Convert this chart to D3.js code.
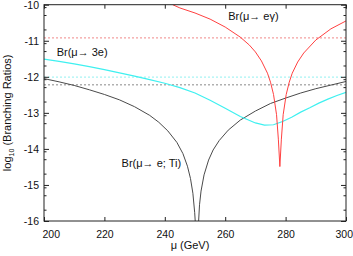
<!doctype html>
<html>
  <head>
    <meta charset="utf-8">
    <script src="https://cdn.jsdelivr.net/npm/d3@7"></script>
    <style>
      body { margin: 0; background: #fff; }
      text { font-family: "Liberation Sans", Arial, sans-serif; fill: #111; }
    </style>
  </head>
  <body>
    <svg id="chart"></svg>
    <script>
      // values: log10(BR) vs mu (GeV)
      var muTi  = [200, 205, 210, 215, 220, 225, 230, 235, 238, 241, 244, 246, 247.5, 248.5, 249.3, 249.9, 250.3,
                   250.9, 251.2, 251.5, 252, 253, 254.5, 256, 258, 261, 265, 270, 275, 280, 285, 290, 295, 300];
      var brTi  = [-12.05, -12.14, -12.24, -12.36, -12.49, -12.64, -12.83, -13.07, -13.26, -13.50, -13.82, -14.13, -14.48, -14.82, -15.23, -15.77, -16.3,
                   -16.3, -16.0, -15.55, -15.17, -14.72, -14.31, -14.03, -13.77, -13.48, -13.20, -12.95, -12.74, -12.59, -12.45, -12.33, -12.23, -12.13];

      var mu3e  = [200, 205, 210, 215, 220, 225, 230, 235, 240, 245, 250, 255, 260, 265, 270, 273, 276, 279, 282, 285, 288, 291, 294, 297, 300];
      var br3e  = [-11.51, -11.57, -11.64, -11.72, -11.80, -11.89, -11.98, -12.08, -12.18, -12.30, -12.45, -12.65, -12.87, -13.10, -13.28, -13.34, -13.33, -13.24, -13.12, -12.98, -12.86, -12.73, -12.62, -12.52, -12.43];

      var muEg  = [242.6, 245, 250, 255, 260, 265, 268, 270, 272, 274, 275, 276, 277, 277.6, 278.1, 278.6, 279.2, 280.2, 281.2, 282.2, 284, 286, 290, 295, 300];
      var brEg  = [-10.0, -10.09, -10.23, -10.40, -10.62, -10.90, -11.12, -11.31, -11.56, -11.90, -12.15, -12.49, -13.05, -13.73, -14.49, -13.73, -13.05, -12.49, -12.15, -11.90, -11.59, -11.34, -10.98, -10.67, -10.45];

      // experimental limits (dotted)
      var limitVals   = [-10.92, -12.01, -12.22];
      var limitColors = ["#f4a0a0", "#a8f4f4", "#b0b0b0"];

      var xTicks = [200, 220, 240, 260, 280, 300];
      var yTicks = [-10, -11, -12, -13, -14, -15, -16];

      var labels = [
        { text: "Br(\u03bc\u2192 e\u03b3)", mu: 261, v: -10.43 },
        { text: "Br(\u03bc\u2192 3e)", mu: 204.2, v: -11.42 },
        { text: "Br(\u03bc\u2192 e; Ti)", mu: 225.7, v: -14.5 }
      ];

      var W = 353, H = 256;
      var mLeft = 44, mRight = 346, mTop = 4.7, mBottom = 221;

      var svg = d3.select("#chart").attr("width", W).attr("height", H);
      var x = d3.scaleLinear().domain([200, 300]).range([mLeft, mRight]);
      var y = d3.scaleLinear().domain([-16, -10]).range([mBottom, mTop]);

      svg.append("clipPath").attr("id", "clip")
        .append("rect").attr("x", mLeft).attr("y", mTop).attr("width", mRight - mLeft).attr("height", mBottom - mTop);

      // dotted limit lines
      svg.selectAll(".limit").data(limitVals).enter().append("line")
        .attr("x1", mLeft).attr("x2", mRight)
        .attr("y1", d => y(d)).attr("y2", d => y(d))
        .attr("stroke", (d, i) => limitColors[i])
        .attr("stroke-width", 1.3)
        .attr("stroke-dasharray", "2,2");

      var line = d3.line().x(d => x(d[0])).y(d => y(d[1]));
      var g = svg.append("g").attr("clip-path", "url(#clip)");
      g.append("path").datum(d3.zip(muTi, brTi)).attr("d", line)
        .attr("fill", "none").attr("stroke", "#4a4a4a").attr("stroke-width", 1);
      g.append("path").datum(d3.zip(mu3e, br3e)).attr("d", line)
        .attr("fill", "none").attr("stroke", "#3ff0f0").attr("stroke-width", 1.2);
      g.append("path").datum(d3.zip(muEg, brEg)).attr("d", line)
        .attr("fill", "none").attr("stroke", "#ff4040").attr("stroke-width", 1);

      // frame
      svg.append("rect").attr("x", mLeft).attr("y", mTop).attr("width", mRight - mLeft).attr("height", mBottom - mTop)
        .attr("fill", "none").attr("stroke", "#222").attr("stroke-width", 1);

      // axes, ticks inward
      var fmt = d => String(d);
      var xAx = svg.append("g").attr("transform", "translate(0," + mBottom + ")")
        .call(d3.axisBottom(x).tickValues(xTicks).tickSizeInner(-4).tickSizeOuter(0).tickPadding(10).tickFormat(fmt))
        .call(a => a.select(".domain").remove());
      xAx.selectAll("text").attr("font-size", 10.5)
        .attr("text-anchor", d => d === 200 ? "start" : d === 300 ? "end" : "middle")
        .attr("dx", d => d === 200 ? -2 : d === 300 ? 6.5 : 0);
      svg.append("g").attr("transform", "translate(0," + mTop + ")")
        .call(d3.axisTop(x).tickValues(xTicks).tickSizeInner(-4).tickSizeOuter(0).tickFormat(""))
        .call(a => a.select(".domain").remove());
      svg.append("g").attr("transform", "translate(" + mLeft + ",0)")
        .call(d3.axisLeft(y).tickValues(yTicks).tickSizeInner(-5).tickSizeOuter(0).tickPadding(5).tickFormat(fmt))
        .call(a => a.select(".domain").remove())
        .selectAll("text").attr("font-size", 10.5);
      svg.append("g").attr("transform", "translate(" + mRight + ",0)")
        .call(d3.axisRight(y).tickValues(yTicks).tickSizeInner(-5).tickSizeOuter(0).tickFormat(""))
        .call(a => a.select(".domain").remove());

      // minor ticks on y (log positions inside each decade)
      var minor = [];
      yTicks.forEach(function(t) { if (t > -16) [0.08, 0.3, 0.7].forEach(o => minor.push(t - o)); });
      [mLeft, mRight].forEach(function(px) {
        var dir = px === mLeft ? 1 : -1;
        svg.selectAll(null).data(minor).enter().append("line")
          .attr("x1", px).attr("x2", px + dir * 2.5)
          .attr("y1", d => y(d)).attr("y2", d => y(d))
          .attr("stroke", "#222").attr("stroke-width", 1);
      });
      svg.selectAll(".tick line").attr("stroke", "#222");

      // curve labels
      svg.selectAll(".lab").data(labels).enter().append("text")
        .attr("x", d => x(d.mu)).attr("y", d => y(d.v))
        .attr("font-size", 11).text(d => d.text);

      // axis titles
      svg.append("text").attr("x", 190).attr("y", 249)
        .attr("text-anchor", "middle").attr("font-size", 11).text("\u03bc (GeV)");
      var yl = svg.append("text").attr("transform", "translate(11," + ((mTop + mBottom) / 2) + ") rotate(-90)")
        .attr("text-anchor", "middle").attr("font-size", 11);
      yl.append("tspan").text("log");
      yl.append("tspan").attr("font-size", 7).attr("dy", 3).text("10");
      yl.append("tspan").attr("dy", -3).text(" (Branching Ratios)");
    </script>
  </body>
</html>
